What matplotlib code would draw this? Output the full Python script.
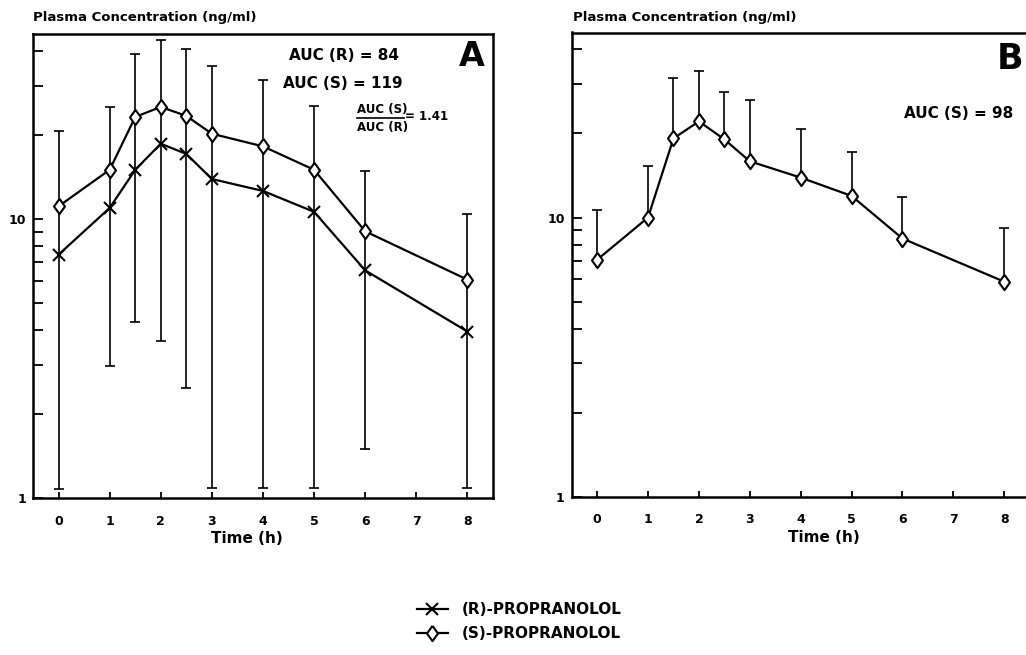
import numpy as np
import matplotlib
matplotlib.use('Agg')
import matplotlib.pyplot as plt
from matplotlib.ticker import LogLocator, NullFormatter, FixedLocator, FixedFormatter

plt.rcParams['font.family'] = ['DejaVu Sans']
plt.rcParams['font.weight'] = 'bold'

# panel A: (R)- and (S)-propranolol, mean with SD range
time_a = [0, 1, 1.5, 2, 2.5, 3, 4, 5, 6, 8]
r_conc = [7.45, 10.95, 15.0, 18.6, 17.1, 13.9, 12.6, 10.6, 6.54, 3.95]
s_conc = [11.1, 15.0, 23.2, 25.2, 23.4, 20.2, 18.2, 15.0, 9.03, 6.06]
a_upper = [20.6, 25.1, 39.1, 43.6, 40.7, 35.4, 31.4, 25.3, 14.9, 10.4]
a_lower = [1.08, 2.96, 4.26, 3.65, 2.48, 1.09, 1.09, 1.09, 1.50, 1.09]

# panel B: (S)-propranolol given alone
time_b = [0, 1, 1.5, 2, 2.5, 3, 4, 5, 6, 8]
s_conc_b = [7.06, 10.0, 19.2, 22.1, 19.05, 15.9, 13.9, 11.95, 8.41, 5.89]
b_upper = [10.6, 15.3, 31.6, 33.6, 28.2, 26.3, 20.7, 17.1, 11.8, 9.14]

xticks = [0, 1, 2, 3, 4, 5, 6, 7, 8]

# diamond a bit wider than matplotlib's 'd'
diamond = [(0, 1), (0.72, 0), (0, -1), (-0.72, 0), (0, 1)]

fig = plt.figure(figsize=(10.26, 6.55), dpi=100)
W, H = 1026.0, 655.0
axA = fig.add_axes([33/W, 1-498/H, 460/W, 464/H])
axB = fig.add_axes([571.7/W, 1-496.7/H, 458/W, 464.2/H])


def style_axis(ax):
    ax.set_yscale('log')
    ax.set_xlim(-0.5, 8.5)
    ax.set_ylim(1, 46)
    for sp in ax.spines.values():
        sp.set_linewidth(1.8)
    ax.xaxis.set_major_locator(FixedLocator(xticks))
    ax.xaxis.set_major_formatter(FixedFormatter([str(t) for t in xticks]))
    ax.yaxis.set_major_locator(FixedLocator([1, 10]))
    ax.yaxis.set_major_formatter(FixedFormatter(['1', '10']))
    ax.yaxis.set_minor_locator(LogLocator(base=10, subs=np.arange(2, 10)))
    ax.yaxis.set_minor_formatter(NullFormatter())
    ax.tick_params(axis='y', which='both', direction='in', length=7, width=1.3,
                   right=False, labelsize=9, pad=5)
    ax.tick_params(axis='x', which='both', direction='in', length=4, width=1.3,
                   top=False, labelsize=9, pad=12)
    for lab in ax.get_xticklabels() + ax.get_yticklabels():
        lab.set_fontweight('bold')


style_axis(axA)
style_axis(axB)

# panel A
axA.vlines(time_a, a_lower, a_upper, color='black', lw=1.2, zorder=1)
axA.plot(time_a, a_upper, ls='none', marker='_', ms=7, mew=1.2, color='black', zorder=1)
axA.plot(time_a, a_lower, ls='none', marker='_', ms=7, mew=1.2, color='black', zorder=1)
lR, = axA.plot(time_a, r_conc, color='black', lw=1.6, marker='x', ms=9, mew=1.5,
               zorder=3, label='(R)-PROPRANOLOL')
lS, = axA.plot(time_a, s_conc, color='black', lw=1.6, marker=diamond, ms=11, mew=1.5,
               mfc='white', zorder=3, label='(S)-PROPRANOLOL')

# panel B
axB.vlines(time_b, s_conc_b, b_upper, color='black', lw=1.2, zorder=1)
axB.plot(time_b, b_upper, ls='none', marker='_', ms=7, mew=1.2, color='black', zorder=1)
axB.plot(time_b, s_conc_b, color='black', lw=1.6, marker=diamond, ms=11, mew=1.5,
         mfc='white', zorder=3)

# labels
for ax, xl in [(axA, 0.466), (axB, 0.551)]:
    ax.set_xlabel('Time (h)', fontsize=11, fontweight='bold')
    ax.xaxis.set_label_coords(xl, -0.072)

fig.text(33/W, 1-17/H, 'Plasma Concentration (ng/ml)', fontsize=9.5, fontweight='bold',
         va='center', ha='left')
fig.text(573/W, 1-17/H, 'Plasma Concentration (ng/ml)', fontsize=9.5, fontweight='bold',
         va='center', ha='left')

# annotations panel A
fig.text(289/W, 1-56/H, 'AUC (R) = 84', fontsize=11, fontweight='bold', va='center')
fig.text(283/W, 1-83/H, 'AUC (S) = 119', fontsize=11, fontweight='bold', va='center')
fig.text(357/W, 1-110/H, 'AUC (S)', fontsize=8.5, fontweight='bold', va='center')
fig.text(357/W, 1-128/H, 'AUC (R)', fontsize=8.5, fontweight='bold', va='center')
fig.add_artist(plt.Line2D([357/W, 404/W], [1-118/H, 1-118/H], color='black', lw=1.2))
fig.text(405/W, 1-117/H, '= 1.41', fontsize=8.5, fontweight='bold', va='center')
fig.text(459/W, 1-57/H, 'A', fontsize=24, fontweight='bold', va='center')

# annotations panel B
fig.text(904/W, 1-113/H, 'AUC (S) = 98', fontsize=11, fontweight='bold', va='center')
fig.text(1023/W, 1-59/H, 'B', fontsize=25, fontweight='bold', va='center', ha='right')

fig.legend(handles=[lR, lS], loc='upper left', bbox_to_anchor=(417/W, 1-602/H),
           frameon=False, fontsize=11, handlelength=2.0, handletextpad=0.9,
           labelspacing=0.6, borderpad=0, borderaxespad=0, numpoints=1)

fig.savefig('out.png', dpi=100)
